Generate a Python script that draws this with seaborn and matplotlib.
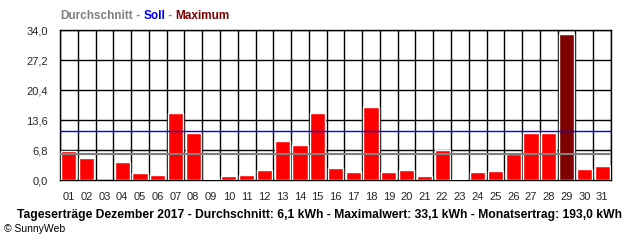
import numpy as np
import pandas as pd
import matplotlib
matplotlib.use("Agg")
import matplotlib.pyplot as plt
import seaborn as sns

days = [f"{d:02d}" for d in range(1, 32)]
yields_kwh = [6.6, 5.0, 0.0, 4.1, 1.6, 1.2, 15.2, 10.7, 0.3, 1.0,
              1.2, 2.3, 8.9, 8.0, 15.2, 2.8, 1.9, 16.6, 1.9, 2.3,
              1.0, 6.9, 0.3, 1.9, 2.1, 5.8, 10.7, 10.7, 33.1, 2.6, 3.2]
avg_line = 5.9
soll_line = 11.0
y_ticks = [0.0, 6.8, 13.6, 20.4, 27.2, 34.0]
y_tick_labels = ["0,0", "6,8", "13,6", "20,4", "27,2", "34,0"]
footer = "Tageserträge Dezember 2017 - Durchschnitt: 6,1 kWh - Maximalwert: 33,1 kWh - Monatsertrag: 193,0 kWh"
legend_parts = [("Durchschnitt", "#808080"), (" - ", "#808080"), ("Soll", "#0000FF"),
                (" - ", "#808080"), ("Maximum", "#800000")]

sns.set_style("white")
plt.rcParams["font.family"] = ["Liberation Sans", "DejaVu Sans"]

df = pd.DataFrame({"day": days, "kwh": yields_kwh})
max_val = max(yields_kwh)
colors = ["#800000" if v == max_val else "#FF0000" for v in yields_kwh]

fig = plt.figure(figsize=(6.4, 2.4), dpi=100)
ax = fig.add_axes([60 / 640, 1 - 180 / 240, 551 / 640, 150 / 240])

sns.barplot(data=df, x="day", y="kwh", hue="day", palette=colors, legend=False,
            width=0.85, saturation=1, ax=ax, zorder=3)

ax.set_xlim(-0.5, len(days) - 0.5)
ax.set_ylim(0, 34.0)
ax.set_yticks(y_ticks)
ax.set_yticklabels(y_tick_labels, fontsize=8)
ax.set_xticks(range(len(days)))
ax.set_xticklabels(days, fontsize=8)
ax.set_xticks(np.arange(-0.5, len(days)), minor=True)
ax.tick_params(axis="x", which="major", length=0, pad=9)
ax.tick_params(axis="x", which="minor", length=6, width=1.0, color="black", direction="out")
ax.tick_params(axis="y", which="major", length=5, width=1.0, color="black", direction="out", pad=3.5)
ax.set_xlabel("")
ax.set_ylabel("")

ax.grid(True, axis="y", which="major", color="black", linewidth=1.0, zorder=1)
ax.grid(True, axis="x", which="minor", color="black", linewidth=1.0, zorder=1)
ax.grid(False, axis="x", which="major")
ax.set_axisbelow(True)
for s in ax.spines.values():
    s.set_visible(True)
    s.set_color("black")
    s.set_linewidth(1.0)

ax.axhline(avg_line, color="#808080", linewidth=1.5, zorder=5)
ax.axhline(soll_line, color="#0000FF", linewidth=1.0, zorder=5)

# legend title pieces, chained left to right
renderer = fig.canvas.get_renderer()
x_px = 60.0
for txt, col in legend_parts:
    t = fig.text(x_px / 640, 1 - 16 / 240, txt, color=col, fontsize=8.5, fontweight="bold",
                 ha="left", va="center")
    bb = t.get_window_extent(renderer=renderer)
    x_px += bb.width

fig.text(17 / 640, 1 - 215 / 240, footer, color="black", fontsize=8.7, fontweight="bold",
         ha="left", va="center")
fig.text(4 / 640, 1 - 229 / 240, "© SunnyWeb", color="black", fontsize=7.5,
         ha="left", va="center")

fig.savefig("out.png", dpi=100)
